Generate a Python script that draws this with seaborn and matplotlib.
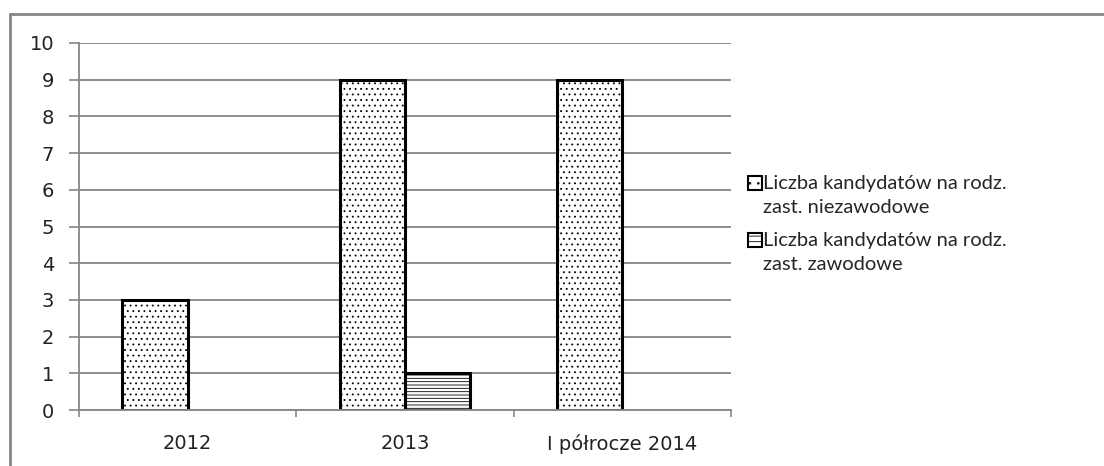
import matplotlib
matplotlib.use("Agg")
import matplotlib.pyplot as plt
import seaborn as sns
import pandas as pd
import numpy as np
from matplotlib.lines import Line2D
from matplotlib.patches import Patch, Rectangle
from matplotlib.legend_handler import HandlerPatch

categories = ["2012", "2013", "I półrocze 2014"]
series_names = ["Liczba kandydatów na rodz.\nzast. niezawodowe",
                "Liczba kandydatów na rodz.\nzast. zawodowe"]
niezawodowe = [3, 9, 9]
zawodowe = [0, 1, 0]
y_ticks = list(range(0, 11))

sns.set_theme(style="white")
plt.rcParams["font.family"] = ["DejaVu Sans"]
plt.rcParams["hatch.linewidth"] = 0.6

df = pd.DataFrame({
    "cat": categories * 2,
    "series": [series_names[0]] * 3 + [series_names[1]] * 3,
    "value": niezawodowe + zawodowe,
})

fig = plt.figure(figsize=(11.04, 4.66), dpi=100)
ax = fig.add_axes([79 / 1104, 1 - 410 / 466, (731 - 79) / 1104, (410 - 43) / 466])

sns.barplot(data=df, x="cat", y="value", hue="series", order=categories,
            hue_order=series_names, width=0.6, palette=["white", "white"],
            edgecolor="black", linewidth=2.2, saturation=1, ax=ax, legend=False)

hatches = ["...", "-----"]
for i, cont in enumerate(ax.containers):
    for p in cont.patches:
        p.set_hatch(hatches[i])
        if p.get_height() == 0:
            p.set_visible(False)

ax.set_ylim(0, 10)
ax.set_xlim(-0.5, 2.5)
ax.set_yticks(y_ticks)
ax.set_yticklabels([str(t) for t in y_ticks], fontsize=14)
ax.set_xticks(range(3))
ax.set_xticklabels(categories, fontsize=14)
ax.set_xticks([-0.5, 0.5, 1.5, 2.5], minor=True)
ax.tick_params(axis="x", which="major", length=0, pad=17, colors="#222222")
ax.tick_params(axis="x", which="minor", length=5, width=1.2, color="#868686", direction="out", bottom=True)
ax.tick_params(axis="y", which="major", length=7, width=1.2, color="#868686", direction="out", pad=11,
               labelcolor="#222222", left=True)
ax.set_xlabel("")
ax.set_ylabel("")
ax.grid(axis="y", color="#868686", linewidth=1.3)
ax.set_axisbelow(True)
for s in ["top", "right"]:
    ax.spines[s].set_visible(False)
for s in ["left", "bottom"]:
    ax.spines[s].set_color("#868686")
    ax.spines[s].set_linewidth(1.3)


def top_square(legend, orig_handle, xdescent, ydescent, width, height, fontsize):
    shift = 0.62 * fontsize
    return Rectangle((-xdescent, -ydescent + shift), width, height)


handles = [Patch(facecolor="white", edgecolor="black", hatch="..", linewidth=1.5),
           Patch(facecolor="white", edgecolor="black", hatch="---", linewidth=1.5)]
fig.legend(handles, series_names, loc="center left",
           bbox_to_anchor=(730 / 1104, 1 - 224 / 466), frameon=False,
           prop={"family": "Lato", "size": 14.5}, handlelength=0.7, handleheight=0.7,
           handletextpad=0.05, labelspacing=0.75,
           handler_map={Patch: HandlerPatch(patch_func=top_square)})
for t in fig.legends[0].get_texts():
    t.set_linespacing(1.55)

fig.add_artist(Line2D([10 / 1104, 1], [1 - 14 / 466, 1 - 14 / 466], color="#868686", linewidth=2))
fig.add_artist(Line2D([10 / 1104, 10 / 1104], [0, 1 - 14 / 466], color="#868686", linewidth=2))

fig.savefig("out.png", dpi=100)
